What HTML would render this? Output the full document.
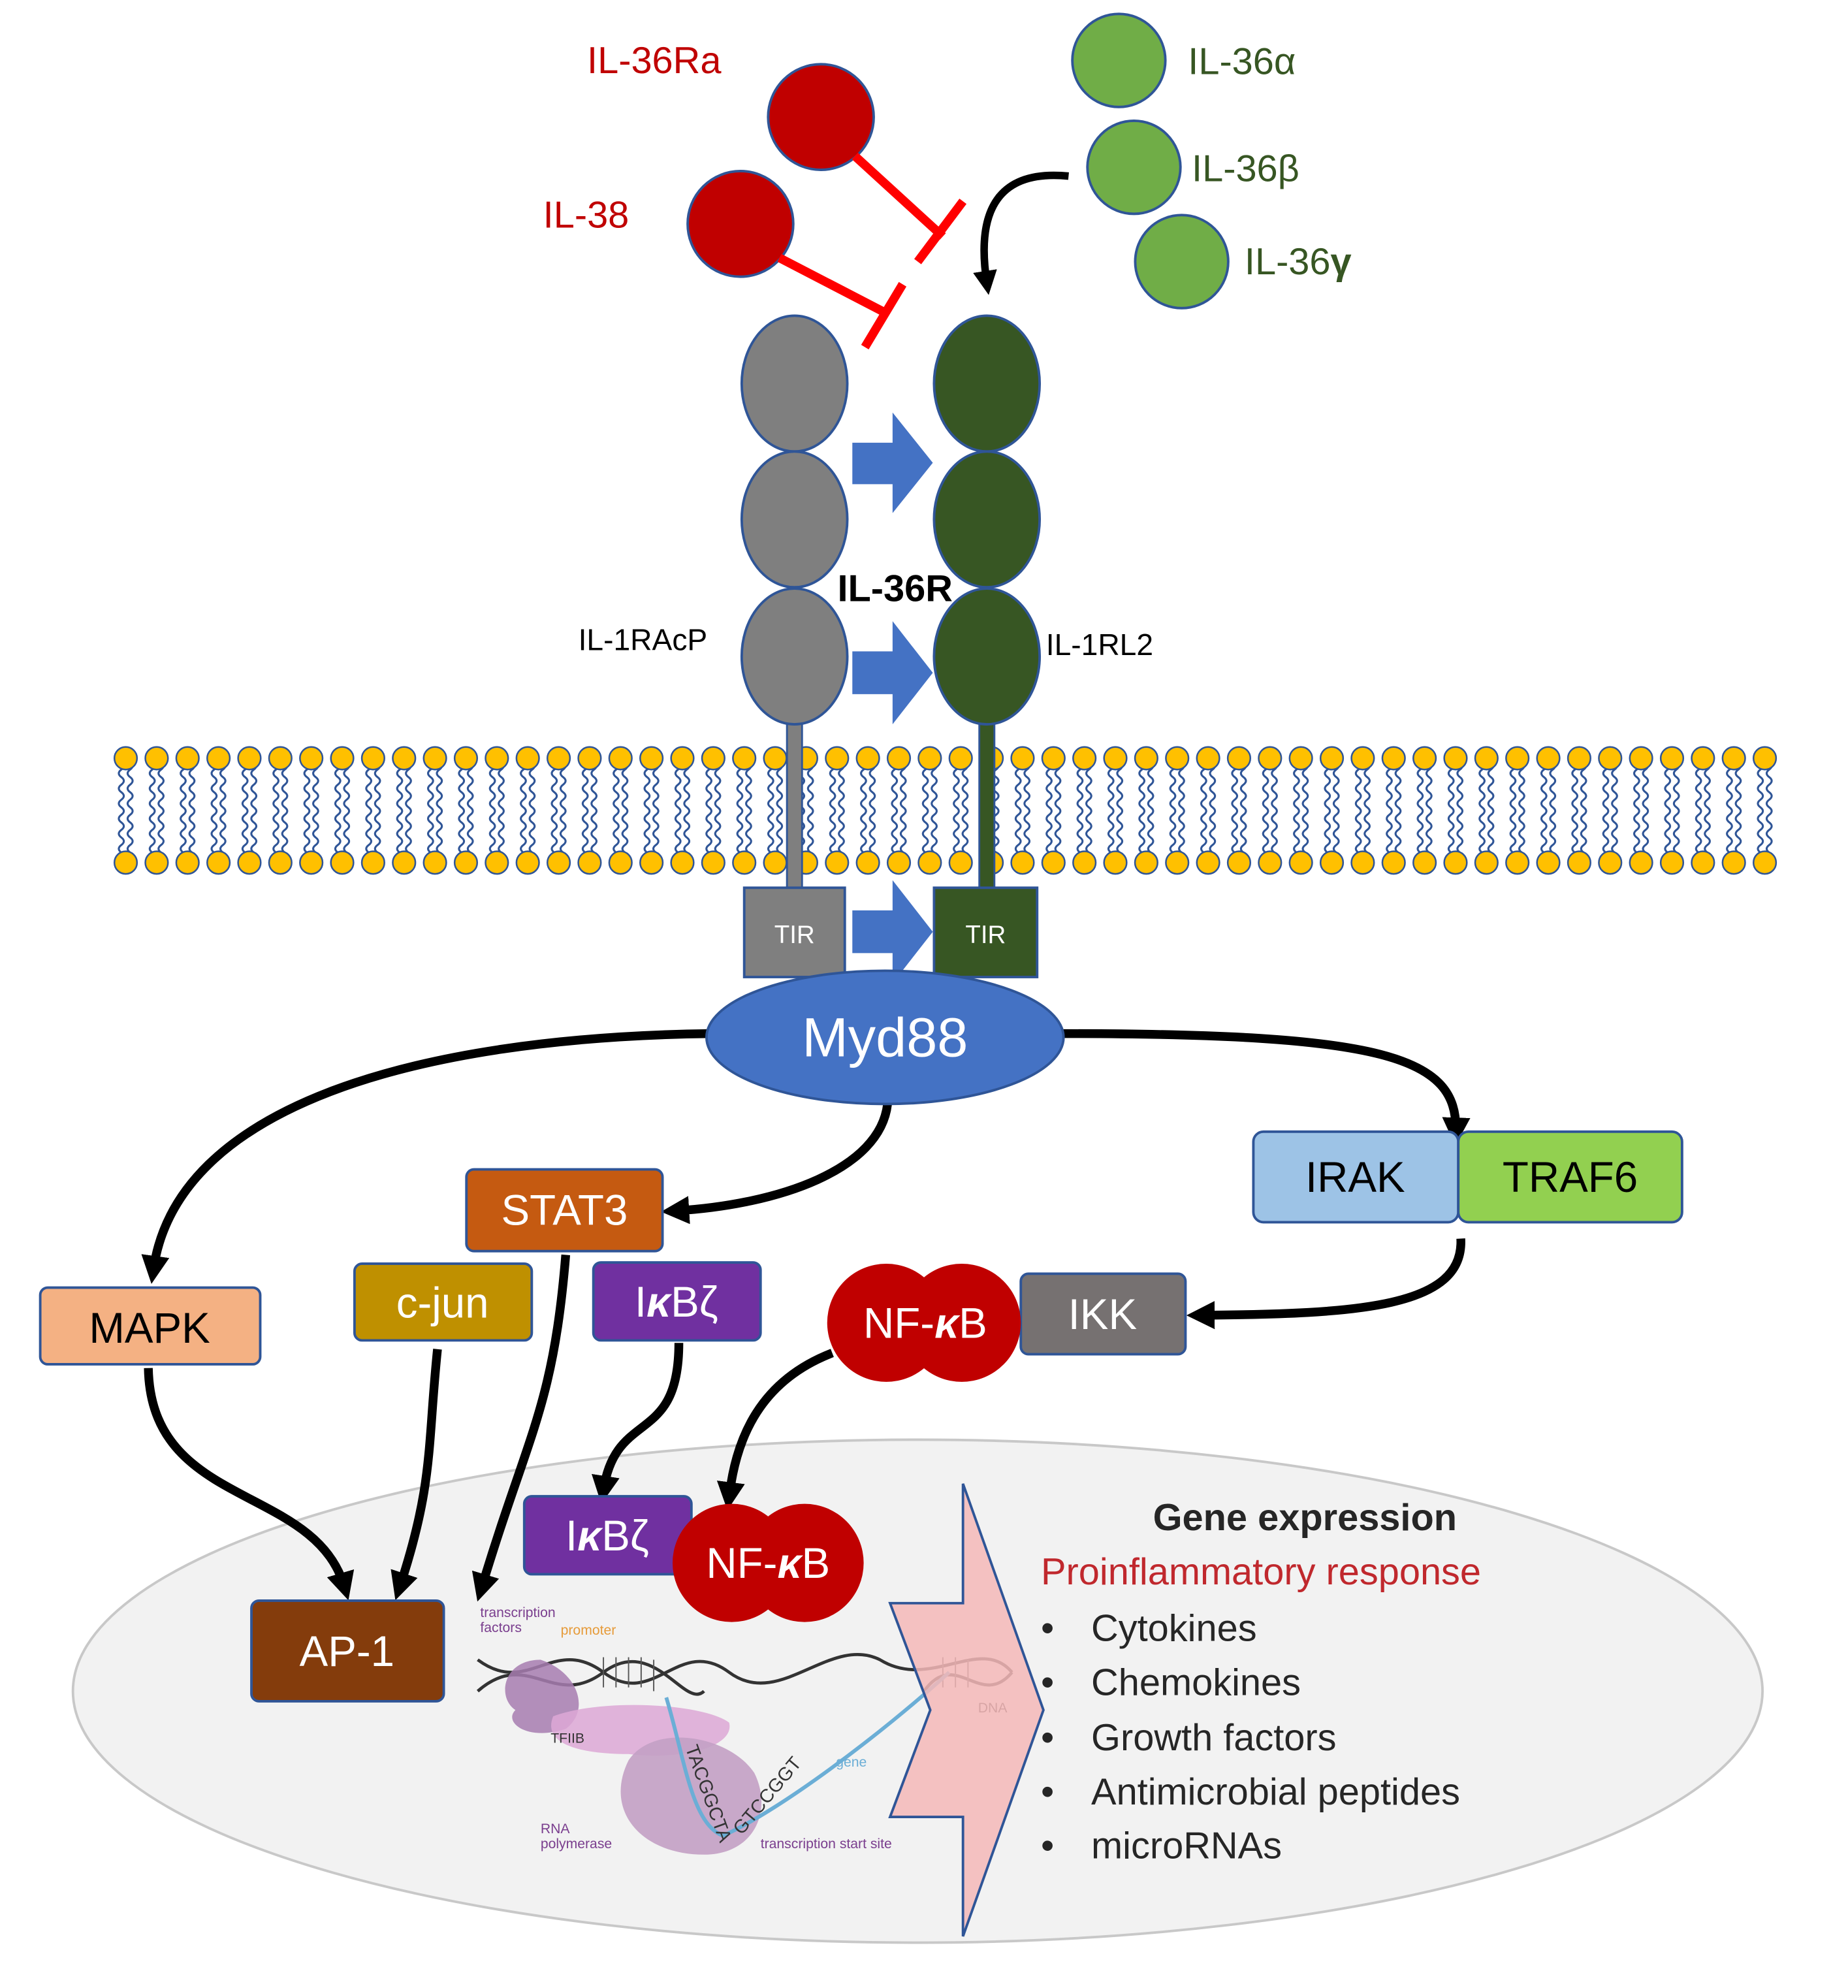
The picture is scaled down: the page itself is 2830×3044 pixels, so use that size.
<!DOCTYPE html>
<html><head><meta charset="utf-8"><style>
html,body{margin:0;padding:0;background:#fff}
svg{display:block}
text{font-family:"Liberation Sans",sans-serif}
</style></head><body>
<svg id="s" width="2830" height="3044" viewBox="0 0 1470 1581" xmlns="http://www.w3.org/2000/svg">
<defs>
<marker id="ah" viewBox="0 0 10 10" refX="5" refY="5" markerWidth="3.2" markerHeight="3.2" orient="auto"><path d="M0,0L10,5L0,10z" fill="#000"/></marker>
</defs>
<ellipse cx="730" cy="1345" rx="672" ry="200" fill="#f2f2f2" stroke="#c8c8c8" stroke-width="2"/>

<text x="467" y="58" font-size="30" fill="#c00000">IL-36Ra</text>
<text x="432" y="181" font-size="30" fill="#c00000">IL-38</text>
<circle cx="653" cy="93" r="42" fill="#c00000" stroke="#2f5597" stroke-width="2"/>
<circle cx="589" cy="178" r="42" fill="#c00000" stroke="#2f5597" stroke-width="2"/>
<g stroke="#ff0000" stroke-width="7" fill="none">
<line x1="680" y1="124" x2="750" y2="188"/><line x1="730" y1="208" x2="766" y2="160"/>
<line x1="620" y1="205" x2="703" y2="248"/><line x1="688" y1="276" x2="718" y2="226"/>
</g>
<circle cx="890" cy="48" r="37" fill="#70ad47" stroke="#2f5597" stroke-width="2"/>
<circle cx="902" cy="133" r="37" fill="#70ad47" stroke="#2f5597" stroke-width="2"/>
<circle cx="940" cy="208" r="37" fill="#70ad47" stroke="#2f5597" stroke-width="2"/>
<text x="945" y="59" font-size="30" fill="#375623">IL-36α</text>
<text x="948" y="144" font-size="30" fill="#375623">IL-36β</text>
<text x="990" y="218" font-size="30" fill="#375623">IL-36<tspan font-weight="bold">γ</tspan></text>
<path d="M850,140 C800,135 775,160 785,225" stroke="#000" stroke-width="6" fill="none" marker-end="url(#ah)"/>

<g id="mem"></g>

<rect x="626" y="570" width="12" height="140" fill="#7f7f7f" stroke="#2f5597" stroke-width="1.5"/>
<rect x="779" y="570" width="12" height="140" fill="#375623" stroke="#2f5597" stroke-width="1.5"/>
<g stroke="#2f5597" stroke-width="2">
<ellipse cx="632" cy="305" rx="42" ry="54" fill="#7f7f7f"/>
<ellipse cx="632" cy="413" rx="42" ry="54" fill="#7f7f7f"/>
<ellipse cx="632" cy="522" rx="42" ry="54" fill="#7f7f7f"/>
<ellipse cx="785" cy="305" rx="42" ry="54" fill="#375623"/>
<ellipse cx="785" cy="413" rx="42" ry="54" fill="#375623"/>
<ellipse cx="785" cy="522" rx="42" ry="54" fill="#375623"/>
</g>
<g fill="#4472c4">
<path d="M678,352H710V328L742,368L710,408V385H678Z"/>
<path d="M678,518H710V494L742,535L710,576V552H678Z"/>
<path d="M678,724H710V700L742,741L710,782V758H678Z"/>
</g>
<text x="712" y="478" font-size="30" font-weight="bold" text-anchor="middle">IL-36R</text>
<text x="460" y="517" font-size="24">IL-1RAcP</text>
<text x="832" y="521" font-size="24">IL-1RL2</text>

<rect x="592" y="706" width="80" height="71" fill="#7f7f7f" stroke="#2f5597" stroke-width="2"/>
<rect x="743" y="706" width="82" height="71" fill="#375623" stroke="#2f5597" stroke-width="2"/>
<text x="632" y="750" font-size="20" fill="#fff" text-anchor="middle">TIR</text>
<text x="784" y="750" font-size="20" fill="#fff" text-anchor="middle">TIR</text>

<g stroke="#000" stroke-width="7" fill="none" marker-end="url(#ah)">
<path d="M565,822 C330,825 140,880 122,1010"/>
<path d="M845,822 C1100,822 1160,840 1158,900"/>
<path d="M706,878 C700,930 620,958 537,963"/>
<path d="M118,1088 C120,1200 250,1180 274,1262"/>
<path d="M348,1073 C340,1150 345,1180 318,1262"/>
<path d="M450,998 C440,1120 420,1140 383,1263"/>
<path d="M540,1068 C540,1150 490,1120 480,1185"/>
<path d="M662,1076 C600,1100 585,1150 580,1190"/>
<path d="M1162,985 C1165,1040 1080,1045 955,1046"/>
</g>

<ellipse cx="704" cy="825" rx="142" ry="53" fill="#4472c4" stroke="#2f5597" stroke-width="2"/>
<text x="704" y="840" font-size="44" fill="#fff" text-anchor="middle">Myd88</text>

<g stroke="#2f5597" stroke-width="2">
<rect x="997" y="900" width="163" height="72" rx="8" fill="#9dc3e6"/>
<rect x="1160" y="900" width="178" height="72" rx="8" fill="#92d050"/>
<rect x="371" y="930" width="156" height="65" rx="6" fill="#c55a11"/>
<rect x="32" y="1024" width="175" height="61" rx="6" fill="#f4b183"/>
<rect x="282" y="1005" width="141" height="61" rx="6" fill="#bf9000"/>
<rect x="472" y="1004" width="133" height="62" rx="6" fill="#7030a0"/>
<rect x="812" y="1013" width="131" height="64" rx="6" fill="#767171"/>
<rect x="200" y="1273" width="153" height="80" rx="6" fill="#843c0c"/>
<rect x="417" y="1190" width="133" height="62" rx="6" fill="#7030a0"/>
</g>
<g font-size="34" text-anchor="middle">
<text x="1078" y="948">IRAK</text>
<text x="1249" y="948">TRAF6</text>
<text x="449" y="974" fill="#fff">STAT3</text>
<text x="119" y="1068">MAPK</text>
<text x="352" y="1048" fill="#fff">c-jun</text>
<text x="538" y="1047" fill="#fff">I<tspan font-weight="bold" font-style="italic">κ</tspan>Bζ</text>
<text x="877" y="1057" fill="#fff">IKK</text>
<text x="276" y="1325" fill="#fff">AP-1</text>
<text x="483" y="1233" fill="#fff">I<tspan font-weight="bold" font-style="italic">κ</tspan>Bζ</text>
</g>
<g fill="#c00000">
<circle cx="705" cy="1052" r="47"/><circle cx="765" cy="1052" r="47"/>
<circle cx="582" cy="1243" r="47"/><circle cx="640" cy="1243" r="47"/>
</g>
<text x="736" y="1064" font-size="34" fill="#fff" text-anchor="middle">NF-<tspan font-weight="bold" font-style="italic">κ</tspan>B</text>
<text x="611" y="1255" font-size="34" fill="#fff" text-anchor="middle">NF-<tspan font-weight="bold" font-style="italic">κ</tspan>B</text>

<g>
<path d="M380,1320 C420,1350 440,1300 480,1330 C520,1360 540,1300 580,1330 C620,1360 660,1300 700,1320 C740,1345 780,1300 805,1330" stroke="#333" stroke-width="2.5" fill="none"/>
<path d="M380,1345 C420,1310 440,1360 480,1330 C520,1300 545,1360 560,1345" stroke="#333" stroke-width="2.5" fill="none"/>
<path d="M735,1345 C760,1310 780,1360 805,1330" stroke="#333" stroke-width="2.5" fill="none"/>
<g stroke="#555" stroke-width="1">
<line x1="480" y1="1318" x2="480" y2="1342"/><line x1="490" y1="1318" x2="490" y2="1342"/><line x1="500" y1="1318" x2="500" y2="1342"/><line x1="510" y1="1318" x2="510" y2="1342"/><line x1="520" y1="1320" x2="520" y2="1345"/><line x1="750" y1="1318" x2="750" y2="1342"/><line x1="760" y1="1318" x2="760" y2="1342"/><line x1="770" y1="1320" x2="770" y2="1342"/>
</g>
<path d="M430,1320 C400,1320 395,1350 410,1360 C400,1370 420,1385 450,1375 C470,1360 460,1330 430,1320Z" fill="#a77cb0" opacity="0.85"/>
<path d="M440,1365 C480,1350 560,1355 580,1370 C585,1390 540,1400 500,1395 C470,1395 430,1390 440,1365Z" fill="#dda8d6" opacity="0.85"/>
<path d="M500,1400 C520,1370 580,1380 600,1410 C615,1440 600,1475 560,1475 C510,1475 480,1440 500,1400Z" fill="#c3a0c4" opacity="0.9"/>
<path d="M530,1350 C545,1400 550,1450 575,1460 C620,1440 700,1380 755,1330" stroke="#6baed6" stroke-width="3" fill="none"/>
<text x="382" y="1286" font-size="11" fill="#7a3e8e">transcription</text>
<text x="382" y="1298" font-size="11" fill="#7a3e8e">factors</text>
<text x="446" y="1300" font-size="11" fill="#e69b3a">promoter</text>
<text x="438" y="1386" font-size="11" fill="#333">TFIIB</text>
<text x="430" y="1458" font-size="11" fill="#7a3e8e">RNA</text>
<text x="430" y="1470" font-size="11" fill="#7a3e8e">polymerase</text>
<text x="605" y="1470" font-size="11" fill="#7a3e8e">transcription start site</text>
<text x="665" y="1405" font-size="11" fill="#6baed6">gene</text>
<text x="778" y="1362" font-size="11" fill="#333">DNA</text>
<text x="545" y="1390" font-size="15" fill="#333" transform="rotate(70 545 1390)">TACGGCTA</text>
<text x="590" y="1460" font-size="15" fill="#333" transform="rotate(-50 590 1460)">GTCCGGT</text>
</g>
<path d="M766,1180L830,1360L766,1540V1445H708L740,1360L708,1275H766Z" fill="#f4b8b8" fill-opacity="0.85" stroke="#2f5597" stroke-width="2"/>

<text x="1038" y="1217" font-size="30" font-weight="bold" text-anchor="middle" fill="#262626">Gene expression</text>
<text x="828" y="1260" font-size="30" fill="#c0282d">Proinflammatory response</text>
<g font-size="30" fill="#262626">
<text x="828" y="1305">•</text><text x="868" y="1305">Cytokines</text>
<text x="828" y="1348">•</text><text x="868" y="1348">Chemokines</text>
<text x="828" y="1392">•</text><text x="868" y="1392">Growth factors</text>
<text x="828" y="1435">•</text><text x="868" y="1435">Antimicrobial peptides</text>
<text x="828" y="1478">•</text><text x="868" y="1478">microRNAs</text>
</g>
</svg>
<script>
(function(){
var g=document.getElementById('mem'),h='';
for(var x=100;x<=1426;x+=24.6){
 for(var k=-1;k<=1;k+=2){
  var xx=x+k*3.5,d='M'+xx+',606',i=0;
  for(var y=606;y<682;y+=6,i++){d+=' Q'+(xx+(i%2?-4:4))+','+(y+3)+' '+xx+','+(y+6);}
  h+='<path d="'+d+'" stroke="#2f5597" stroke-width="1.6" fill="none"/>';
 }
}
for(var x=100;x<=1426;x+=24.6){
 h+='<circle cx="'+x+'" cy="603" r="9" fill="#ffc000" stroke="#2f5597" stroke-width="1.3"/>';
 h+='<circle cx="'+x+'" cy="686" r="9" fill="#ffc000" stroke="#2f5597" stroke-width="1.3"/>';
}
g.innerHTML=h;
})();
</script>
</body></html>
